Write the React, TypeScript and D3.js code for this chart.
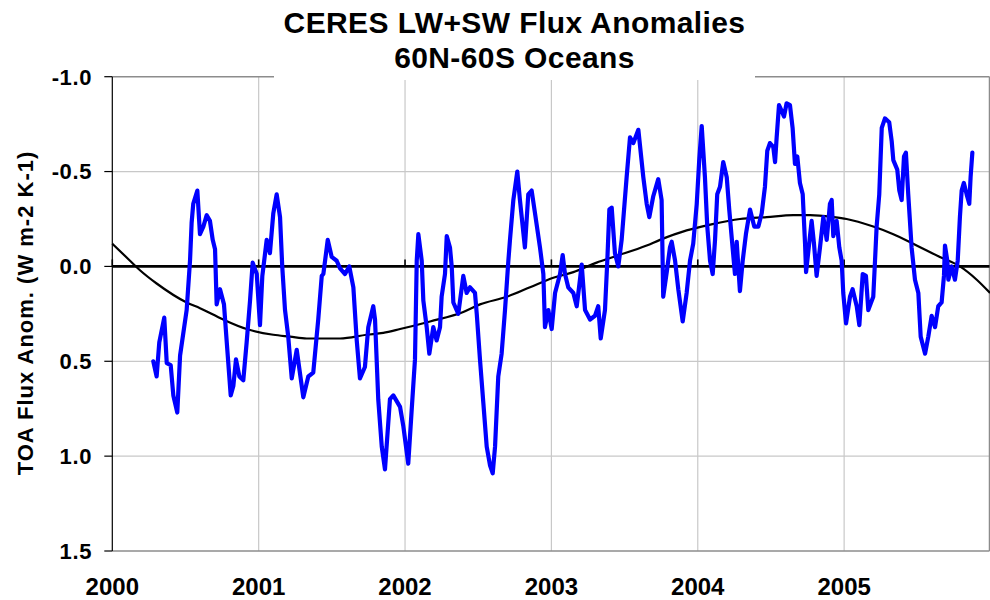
import React from "react";
import * as d3 from "d3";

// Blue series: decimal year and anomaly (W m-2 K-1)
const fluxYears = [
  2000.280, 2000.303, 2000.321, 2000.355, 2000.372, 2000.399, 2000.417, 2000.444, 2000.463, 2000.508,
  2000.531, 2000.542, 2000.553, 2000.581, 2000.599, 2000.622, 2000.645, 2000.667, 2000.686, 2000.702,
  2000.713, 2000.736, 2000.763, 2000.782, 2000.809, 2000.827, 2000.845, 2000.868, 2000.895, 2000.918,
  2000.941, 2000.959, 2000.987, 2001.009, 2001.025, 2001.055, 2001.077, 2001.100, 2001.123, 2001.146,
  2001.161, 2001.180, 2001.202, 2001.226, 2001.260, 2001.305, 2001.339, 2001.373, 2001.407, 2001.431,
  2001.442, 2001.472, 2001.499, 2001.533, 2001.556, 2001.590, 2001.619, 2001.647, 2001.670, 2001.692,
  2001.726, 2001.749, 2001.783, 2001.795, 2001.817, 2001.841, 2001.863, 2001.897, 2001.920, 2001.966,
  2001.988, 2002.022, 2002.046, 2002.068, 2002.080, 2002.091, 2002.114, 2002.125, 2002.148, 2002.166,
  2002.193, 2002.216, 2002.239, 2002.250, 2002.273, 2002.285, 2002.307, 2002.319, 2002.330, 2002.364,
  2002.398, 2002.421, 2002.444, 2002.478, 2002.490, 2002.512, 2002.535, 2002.558, 2002.581, 2002.599,
  2002.615, 2002.637, 2002.660, 2002.683, 2002.706, 2002.717, 2002.740, 2002.767, 2002.785, 2002.819,
  2002.842, 2002.865, 2002.888, 2002.922, 2002.945, 2002.956, 2002.979, 2003.002, 2003.025, 2003.059,
  2003.077, 2003.093, 2003.115, 2003.150, 2003.173, 2003.195, 2003.207, 2003.230, 2003.264, 2003.298,
  2003.320, 2003.337, 2003.366, 2003.382, 2003.396, 2003.412, 2003.434, 2003.457, 2003.480, 2003.514,
  2003.537, 2003.560, 2003.594, 2003.628, 2003.651, 2003.669, 2003.696, 2003.730, 2003.753, 2003.764,
  2003.788, 2003.810, 2003.822, 2003.845, 2003.867, 2003.897, 2003.924, 2003.947, 2003.969, 2003.993,
  2004.010, 2004.027, 2004.049, 2004.065, 2004.084, 2004.102, 2004.118, 2004.133, 2004.152, 2004.174,
  2004.198, 2004.215, 2004.239, 2004.254, 2004.266, 2004.288, 2004.307, 2004.329, 2004.357, 2004.386,
  2004.414, 2004.437, 2004.459, 2004.475, 2004.493, 2004.516, 2004.528, 2004.539, 2004.555, 2004.573,
  2004.589, 2004.607, 2004.630, 2004.648, 2004.664, 2004.680, 2004.698, 2004.717, 2004.733, 2004.740,
  2004.778, 2004.794, 2004.812, 2004.835, 2004.858, 2004.881, 2004.903, 2004.915, 2004.926, 2004.949,
  2004.967, 2004.983, 2004.994, 2005.013, 2005.040, 2005.058, 2005.086, 2005.104, 2005.127, 2005.149,
  2005.165, 2005.199, 2005.211, 2005.222, 2005.240, 2005.257, 2005.279, 2005.308, 2005.325, 2005.336,
  2005.363, 2005.377, 2005.393, 2005.409, 2005.422, 2005.438, 2005.461, 2005.484, 2005.507, 2005.523,
  2005.553, 2005.575, 2005.598, 2005.621, 2005.643, 2005.666, 2005.682, 2005.689, 2005.705, 2005.712,
  2005.735, 2005.757, 2005.776, 2005.791, 2005.803, 2005.818, 2005.837, 2005.855, 2005.864, 2005.876,
];
const fluxValues = [
  0.50, 0.58, 0.40, 0.27, 0.51, 0.52, 0.68, 0.77, 0.47, 0.23,
  -0.03, -0.23, -0.33, -0.40, -0.17, -0.21, -0.27, -0.24, -0.14, -0.09,
  0.20, 0.12, 0.20, 0.40, 0.68, 0.63, 0.49, 0.58, 0.60, 0.40,
  0.18, -0.02, 0.04, 0.31, 0.05, -0.14, -0.07, -0.28, -0.38, -0.26,
  0.00, 0.23, 0.37, 0.59, 0.44, 0.69, 0.58, 0.56, 0.28, 0.05,
  0.04, -0.14, -0.05, -0.03, 0.01, 0.04, 0.00, 0.11, 0.39, 0.59,
  0.53, 0.32, 0.21, 0.28, 0.70, 0.95, 1.07, 0.70, 0.68, 0.74,
  0.84, 1.04, 0.75, 0.49, -0.03, -0.17, -0.03, 0.18, 0.32, 0.46,
  0.32, 0.39, 0.32, 0.16, 0.04, -0.16, -0.10, 0.00, 0.19, 0.25,
  0.05, 0.14, 0.11, 0.14, 0.25, 0.49, 0.72, 0.95, 1.05, 1.09,
  0.95, 0.58, 0.46, 0.23, -0.03, -0.14, -0.35, -0.50, -0.35, -0.10,
  -0.38, -0.40, -0.28, -0.10, 0.04, 0.32, 0.23, 0.33, 0.14, 0.04,
  -0.06, 0.04, 0.11, 0.14, 0.21, 0.07, -0.01, 0.23, 0.28, 0.26,
  0.21, 0.38, 0.23, -0.03, -0.30, -0.31, -0.07, 0.00, -0.14, -0.47,
  -0.68, -0.65, -0.72, -0.47, -0.33, -0.26, -0.37, -0.46, -0.35, 0.16,
  0.03, -0.10, -0.13, -0.03, 0.12, 0.29, 0.14, -0.03, -0.12, -0.33,
  -0.56, -0.74, -0.47, -0.21, -0.03, 0.04, -0.14, -0.38, -0.42, -0.55,
  -0.47, -0.30, -0.09, 0.04, -0.13, 0.13, -0.03, -0.17, -0.30, -0.21,
  -0.21, -0.28, -0.42, -0.61, -0.65, -0.63, -0.55, -0.68, -0.85, -0.82,
  -0.79, -0.86, -0.85, -0.73, -0.54, -0.58, -0.44, -0.38, -0.12, 0.03,
  -0.24, -0.12, 0.05, -0.10, -0.26, -0.14, -0.33, -0.35, -0.16, -0.24,
  -0.10, -0.03, 0.14, 0.30, 0.16, 0.12, 0.21, 0.31, 0.04, 0.05,
  0.23, 0.16, -0.03, -0.21, -0.38, -0.73, -0.78, -0.76, -0.66, -0.56,
  -0.51, -0.40, -0.35, -0.58, -0.60, -0.38, -0.10, 0.07, 0.14, 0.37,
  0.46, 0.37, 0.26, 0.32, 0.21, 0.19, 0.05, -0.11, -0.03, 0.07,
  0.00, 0.07, -0.03, -0.26, -0.40, -0.44, -0.38, -0.33, -0.47, -0.60,
];

// Black fitted curve
const fitYears = [
  2000.000, 2000.121, 2000.189, 2000.303, 2000.508, 2000.599, 2000.758, 2000.918, 2001.100, 2001.214,
  2001.328, 2001.556, 2001.738, 2001.851, 2001.966, 2002.171, 2002.398, 2002.512, 2002.695, 2002.854,
  2003.013, 2003.150, 2003.309, 2003.423, 2003.651, 2003.742, 2003.924, 2004.084, 2004.288, 2004.471,
  2004.653, 2004.767, 2004.926, 2005.017, 2005.199, 2005.336, 2005.472, 2005.654, 2005.791, 2005.906,
  2005.997,
];
const fitValues = [
  -0.12, -0.03, 0.02, 0.09, 0.19, 0.22, 0.28, 0.33, 0.36, 0.37,
  0.38, 0.38, 0.36, 0.35, 0.33, 0.29, 0.24, 0.20, 0.16, 0.11,
  0.06, 0.03, -0.02, -0.05, -0.11, -0.14, -0.19, -0.22, -0.25, -0.26,
  -0.27, -0.27, -0.26, -0.25, -0.21, -0.17, -0.12, -0.05, 0.00, 0.07,
  0.14,
];

const yTicks = [-1.0, -0.5, 0.0, 0.5, 1.0, 1.5];
const yTickLabels = ["-1.0", "-0.5", "0.0", "0.5", "1.0", "1.5"];
const yearTicks = [2000, 2001, 2002, 2003, 2004, 2005];
const titleLines = ["CERES LW+SW Flux Anomalies", "60N-60S Oceans"];
const yLabel = "TOA Flux Anom. (W m-2 K-1)";

const FONT = "'Liberation Sans', Arial, Helvetica, sans-serif";

export default function App() {
  const W = 990, H = 600;
  const left = 112.3, right = 989.5, top = 76.7, bottom = 551;
  const x = d3.scaleLinear().domain([2000, 2006]).range([left, 990.5]);
  const y = d3.scaleLinear().domain([-1.0, 1.5]).range([top, bottom]);

  const flux = fluxYears.map((t, i) => [t, fluxValues[i]] as [number, number]);
  const fit = fitYears.map((t, i) => [t, fitValues[i]] as [number, number]);

  const line = d3.line<[number, number]>().x(d => x(d[0])).y(d => y(d[1]));
  const smooth = d3.line<[number, number]>().x(d => x(d[0])).y(d => y(d[1])).curve(d3.curveMonotoneX);

  const grid = "#c8c8c8";
  const frame = "#8c8c8c";
  const titleBox = { x0: 274, x1: 755, y1: 80 };
  const titleCx = (titleBox.x0 + titleBox.x1) / 2;

  return (
    <svg width={W} height={H} style={{ position: "absolute", left: 0, top: 0, background: "#fff" }}>
      <rect x={0} y={0} width={W} height={H} fill="#fff" />
      {/* horizontal gridlines */}
      {yTicks.filter(v => v !== 0 && v !== -1.0 && v !== 1.5).map(v => (
        <line key={"hg" + v} x1={left} x2={right} y1={y(v)} y2={y(v)} stroke={grid} strokeWidth={1.2} />
      ))}
      {/* vertical gridlines */}
      {yearTicks.filter(t => t > 2000).map(t => (
        <line key={"vg" + t} x1={x(t)} x2={x(t)} y1={top} y2={bottom} stroke={grid} strokeWidth={1.2} />
      ))}
      {/* frame */}
      <line x1={left} x2={right} y1={top} y2={top} stroke={frame} strokeWidth={1.5} />
      <line x1={right} x2={right} y1={top} y2={bottom} stroke={frame} strokeWidth={1.5} />
      <line x1={left} x2={right} y1={bottom} y2={bottom} stroke={frame} strokeWidth={1.5} />
      {/* left axis */}
      <line x1={left} x2={left} y1={top} y2={bottom} stroke="#000" strokeWidth={1.2} />
      {yTicks.map(v => (
        <line key={"yt" + v} x1={left - 8} x2={left} y1={y(v)} y2={y(v)} stroke="#000" strokeWidth={1.2} />
      ))}
      {yTicks.map((v, i) => (
        <text key={"yl" + v} x={92} y={y(v)} dy="0.36em" textAnchor="end" fontFamily={FONT}
          fontWeight="bold" fontSize={22} letterSpacing={0.6} fill="#000">
          {yTickLabels[i]}
        </text>
      ))}
      {/* zero axis with tick marks */}
      <line x1={left} x2={right} y1={y(0)} y2={y(0)} stroke="#000" strokeWidth={2.6} />
      {yearTicks.map(t => (
        <line key={"xt" + t} x1={x(t)} x2={x(t)} y1={y(0) - 7} y2={y(0)} stroke="#000" strokeWidth={1.6} />
      ))}
      {/* fitted curve */}
      <path d={smooth(fit) || ""} fill="none" stroke="#000" strokeWidth={2.2} />
      {/* flux series */}
      <path d={line(flux) || ""} fill="none" stroke="#0000ff" strokeWidth={4.2} strokeLinejoin="round" strokeLinecap="round" />
      {/* title box */}
      <rect x={titleBox.x0} y={0} width={titleBox.x1 - titleBox.x0} height={titleBox.y1} fill="#fff" />
      <text x={titleCx} y={33} textAnchor="middle" fontFamily={FONT} fontWeight="bold" fontSize={30} letterSpacing={0.4} fill="#000">
        {titleLines[0]}
      </text>
      <text x={titleCx} y={68} textAnchor="middle" fontFamily={FONT} fontWeight="bold" fontSize={30} letterSpacing={0.4} fill="#000">
        {titleLines[1]}
      </text>
      {/* x labels */}
      {yearTicks.map(t => (
        <text key={"xl" + t} x={x(t)} y={595} textAnchor="middle" fontFamily={FONT} fontWeight="bold" fontSize={24} fill="#000">
          {t}
        </text>
      ))}
      {/* y label */}
      <text transform={`translate(33, 313) rotate(-90)`} textAnchor="middle" fontFamily={FONT} fontWeight="bold"
        fontSize={22} letterSpacing={1} fill="#000">
        {yLabel}
      </text>
    </svg>
  );
}
